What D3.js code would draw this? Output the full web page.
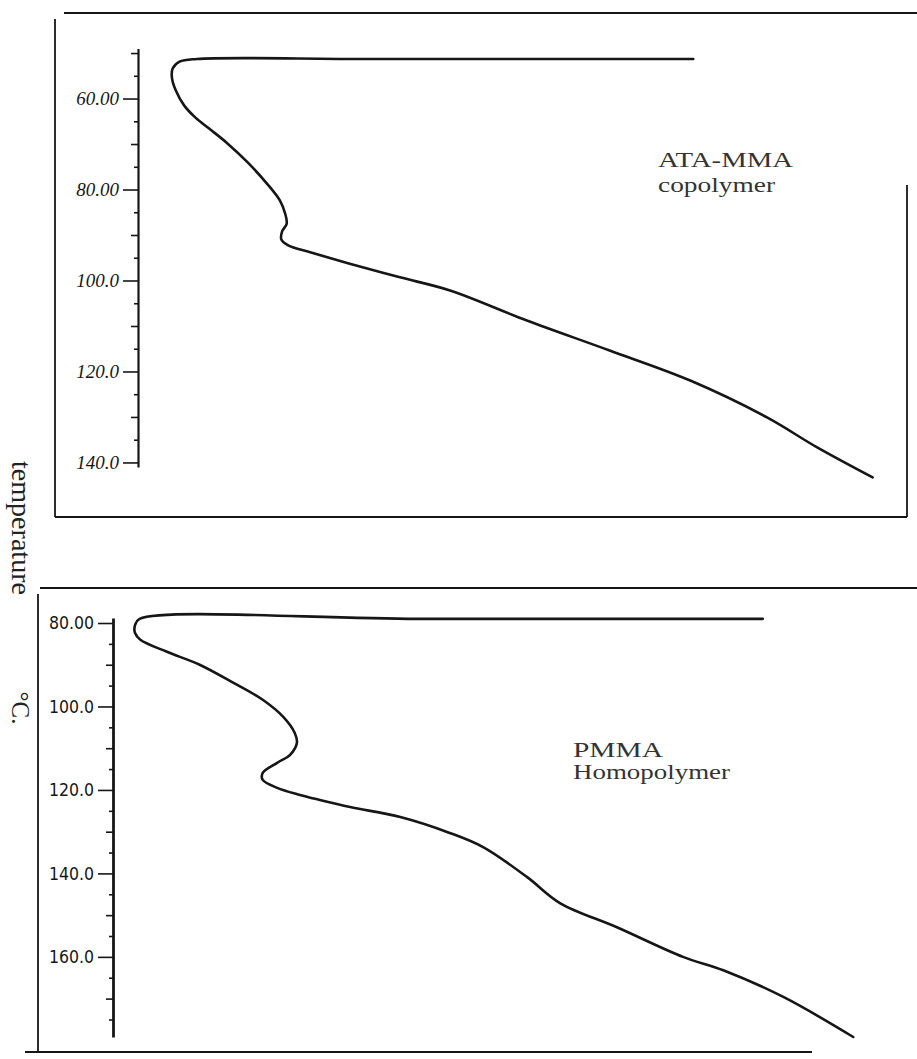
<!DOCTYPE html>
<html>
<head>
<meta charset="utf-8">
<script src="https://cdn.jsdelivr.net/npm/d3@7"></script>
<style>
  html, body { margin: 0; padding: 0; background: #fff; }
  svg { display: block; }
</style>
</head>
<body>
<div id="chart"></div>
<script>
// ── data: ATA-MMA copolymer (upper trace) ───────────────────────
const topTicks  = [60, 80, 100, 120, 140]
const topTemp   = [51.3, 51.3, 51.3, 51.9, 53.4, 55.4, 58.2, 61.5, 64.2, 66.6, 69.7, 74.1, 78.7, 82.4,
                   85.3, 87.5, 89.2, 91.0, 92.3, 93.8, 96.3, 99.3, 102.2, 108.8, 115.4, 122.0, 130.1, 136.7, 143.3]
const topSignal = [72.8, 30.0, 7.5, 5.2, 4.3, 4.2, 4.7, 5.8, 7.3, 9.1, 11.4, 14.2, 16.7, 18.4,
                   19.1, 19.3, 18.7, 18.6, 19.5, 22.4, 27.6, 34.2, 40.8, 50.9, 61.8, 72.4, 82.5, 89.1, 96.4]
const topName   = ['ATA-MMA', 'copolymer']

// ── data: PMMA homopolymer (lower trace) ────────────────────────
const botTicks  = [80, 100, 120, 140, 160]
const botTemp   = [79.0, 79.0, 79.0, 80.5, 82.4, 84.0, 86.9, 90.0, 94.3, 98.4, 102.5, 106.3, 108.7, 111.6,
                   113.5, 115.9, 117.6, 119.5, 121.2, 122.4, 124.1, 126.5, 130.3, 133.7, 140.9, 147.1,
                   152.9, 160.0, 163.2, 169.6, 179.2]
const botSignal = [85.5, 40.0, 3.5, 2.9, 2.9, 3.6, 7.1, 11.4, 15.8, 19.7, 22.4, 23.9, 24.2, 23.3,
                   21.6, 19.7, 19.7, 21.6, 24.6, 27.2, 31.2, 37.8, 44.3, 48.7, 54.5, 58.8,
                   66.3, 75.0, 80.3, 88.2, 97.4]
const botName   = ['PMMA', 'Homopolymer']

const axisTitle = 'temperature'
const unitTitle = '°C.'

// ── layout ───────────────────────────────────────────────────────
const W = 917, H = 1059
const INK = '#161616'

const panels = [
  {
    temp: topTemp, signal: topSignal, ticks: topTicks, name: topName,
    yDomain: [49, 141], yRange: [48.5, 467],
    xRange: [140, 900], axisX: 138, axisW: 2.2,
    frame: { left: 55, right: 907, top: 13, bottom: 517, rightTop: 185, topStart: 64 },
    tickFont: { family: '"Liberation Serif", "DejaVu Serif", serif', size: 19, style: 'italic' },
    label: { x: 658, y: [167, 192], len: [135, 117], size: 20 },
  },
  {
    temp: botTemp, signal: botSignal, ticks: botTicks, name: botName,
    yDomain: [78.8, 179.2], yRange: [618, 1037],
    xRange: [113, 873], axisX: 113, axisW: 2.8,
    frame: { left: 38, right: null, top: 588, bottom: 1052, topStart: 40, bottomStart: 25, bottomEnd: 812 },
    tickFont: { family: '"DejaVu Sans Condensed", "Liberation Sans Narrow", "DejaVu Sans", sans-serif', size: 17.5, style: 'normal' },
    label: { x: 573, y: [757, 779], len: [90, 157], size: 20 },
  },
]

const svg = d3.select('#chart').append('svg')
  .attr('width', W).attr('height', H)
  .attr('viewBox', `0 0 ${W} ${H}`)

svg.append('rect').attr('width', W).attr('height', H).attr('fill', '#fff')

const fmt = d3.format('.4r')

panels.forEach(p => {
  const g = svg.append('g')
  const y = d3.scaleLinear().domain(p.yDomain).range(p.yRange)
  const x = d3.scaleLinear().domain([0, 100]).range(p.xRange)
  const f = p.frame

  // ── frame ─────────────────────────────────────────────────────
  const fr = g.append('g').attr('stroke', INK).attr('stroke-width', 1.8).attr('fill', 'none')
  fr.append('line').attr('x1', f.topStart).attr('x2', W).attr('y1', f.top).attr('y2', f.top)
  fr.append('line').attr('x1', f.left).attr('x2', f.left).attr('y1', f.top + 6).attr('y2', f.bottom)
  fr.append('line')
    .attr('x1', f.bottomStart ?? f.left).attr('x2', f.bottomEnd ?? f.right)
    .attr('y1', f.bottom).attr('y2', f.bottom)
  if (f.right) {
    fr.append('line').attr('x1', f.right).attr('x2', f.right).attr('y1', f.rightTop).attr('y2', f.bottom)
  }

  // ── axis ──────────────────────────────────────────────────────
  const lo = Math.ceil(p.yDomain[0] / 5) * 5
  const all5 = d3.range(lo, p.yDomain[1], 5)
  const minor5  = all5.filter(v => v % 10 !== 0)
  const minor10 = all5.filter(v => v % 10 === 0 && !p.ticks.includes(v))

  const gAxis = g.append('g').attr('transform', `translate(${p.axisX},0)`)

  gAxis.append('g').call(d3.axisLeft(y).tickValues(minor5).tickSize(4).tickFormat(''))
    .call(s => s.select('.domain').remove())
  gAxis.append('g').call(d3.axisLeft(y).tickValues(minor10).tickSize(7).tickFormat(''))
    .call(s => s.select('.domain').remove())

  const major = gAxis.append('g')
    .call(d3.axisLeft(y).tickValues(p.ticks).tickSize(15).tickSizeOuter(0).tickPadding(4).tickFormat(fmt))

  gAxis.selectAll('line, path').attr('stroke', INK)
  gAxis.selectAll('.tick line').attr('stroke-width', 1.6)
  major.select('.domain').attr('stroke-width', p.axisW)
  major.selectAll('text')
    .attr('fill', INK)
    .style('font-family', p.tickFont.family)
    .style('font-size', p.tickFont.size + 'px')
    .style('font-style', p.tickFont.style)

  // ── trace ─────────────────────────────────────────────────────
  const pts = p.temp.map((t, i) => [p.signal[i], t])
  const line = d3.line()
    .x(d => x(d[0]))
    .y(d => y(d[1]))
    .curve(d3.curveCatmullRom.alpha(0.5))

  g.append('path').datum(pts)
    .attr('d', line)
    .attr('fill', 'none')
    .attr('stroke', INK)
    .attr('stroke-width', 2.6)
    .attr('stroke-linejoin', 'round')
    .attr('stroke-linecap', 'round')

  // ── sample name ───────────────────────────────────────────────
  p.name.forEach((txt, i) => {
    g.append('text')
      .attr('x', p.label.x).attr('y', p.label.y[i])
      .attr('textLength', p.label.len[i])
      .attr('lengthAdjust', 'spacingAndGlyphs')
      .attr('fill', '#333')
      .style('font-family', '"Liberation Serif", "DejaVu Serif", serif')
      .style('font-size', p.label.size + 'px')
      .text(txt)
  })
})

// ── shared axis title (vertical, reads downward) ─────────────────
const titleFont = '"Liberation Serif", "DejaVu Serif", serif'
svg.append('text')
  .attr('transform', 'translate(12,528) rotate(90)')
  .attr('text-anchor', 'middle')
  .attr('textLength', 134)
  .attr('lengthAdjust', 'spacingAndGlyphs')
  .attr('fill', '#222')
  .style('font-family', titleFont)
  .style('font-size', '27px')
  .text(axisTitle)

svg.append('text')
  .attr('transform', 'translate(12,708) rotate(90)')
  .attr('text-anchor', 'middle')
  .attr('fill', '#222')
  .style('font-family', titleFont)
  .style('font-size', '25px')
  .text(unitTitle)
</script>
</body>
</html>
